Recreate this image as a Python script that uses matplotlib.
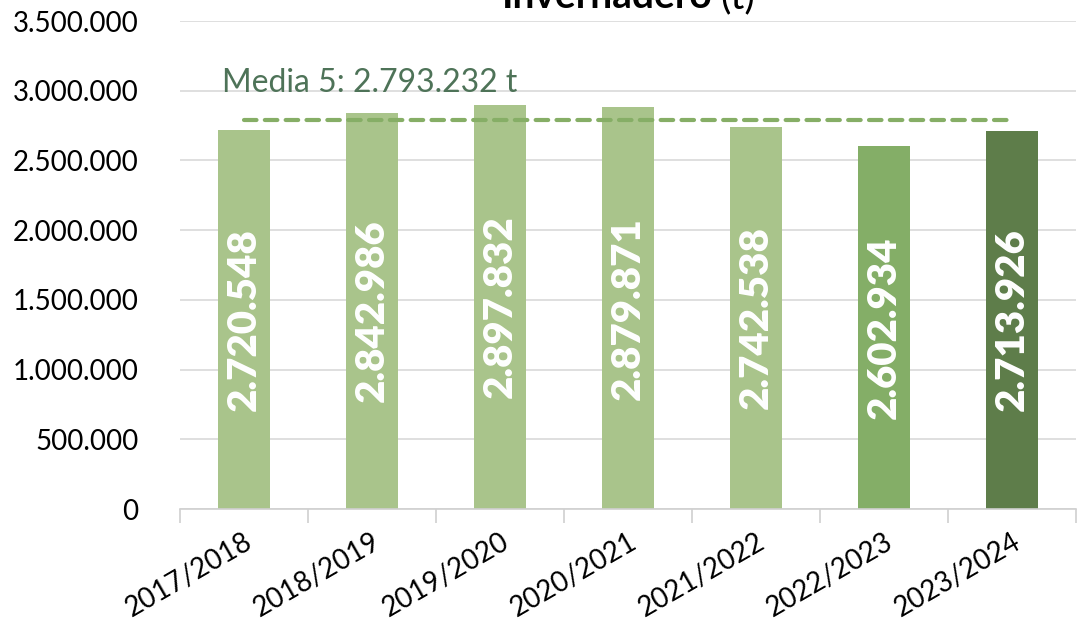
import matplotlib.pyplot as plt
import numpy as np

plt.rcParams['font.family'] = ['Lato', 'DejaVu Sans']

campaigns = ["2017/2018", "2018/2019", "2019/2020", "2020/2021",
             "2021/2022", "2022/2023", "2023/2024"]
values = [2720548, 2842986, 2897832, 2879871, 2742538, 2602934, 2713926]
colors = ["#A9C48B"] * 5 + ["#84AE67", "#5E7D4A"]
mean5 = 2793232


def es_fmt(v):
    return f"{v:,.0f}".replace(",", ".")


fig = plt.figure(figsize=(10.84, 6.25), dpi=100)
ax = fig.add_axes([180 / 1084, 1 - 509 / 625, 896 / 1084, 488 / 625])

x = np.arange(len(values))
ax.bar(x, values, width=0.4, color=colors, zorder=2)

# value labels inside the bars
for xi, v in zip(x, values):
    ax.text(xi, v / 2, es_fmt(v), rotation=90, ha='center', va='center',
            color='white', fontsize=29, fontweight='heavy', zorder=3)

# 5-year mean
ax.plot([x[0], x[-1]], [mean5, mean5], linestyle=(0, (3, 2)), color="#86AE66",
        linewidth=3, zorder=4, dash_capstyle='round')
ax.text(-0.17, mean5 + 200000, f"Media 5: {es_fmt(mean5)} t", color="#4E7358",
        fontsize=23, ha='left', va='baseline')

ax.set_xlim(-0.5, len(values) - 0.5)
ax.set_ylim(0, 3500000)
ax.set_yticks(np.arange(0, 3500001, 500000))
ax.set_yticklabels([es_fmt(v) for v in np.arange(0, 3500001, 500000)], fontsize=20)
ax.tick_params(axis='y', length=0, pad=30)
ax.set_xticks(x)
ax.set_xticklabels(campaigns, rotation=30, ha='right', rotation_mode='anchor', fontsize=20)
ax.tick_params(axis='x', length=0, pad=14)
ax.set_xticks(np.arange(-0.5, len(values), 1), minor=True)
ax.tick_params(axis='x', which='minor', length=10, color='#D0D0D0', width=1.2)
ax.grid(True, axis='y', color='#D9D9D9', linewidth=1.2, zorder=0)
for s in ['top', 'right', 'left']:
    ax.spines[s].set_visible(False)
ax.spines['bottom'].set_color('#D0D0D0')
ax.spines['bottom'].set_linewidth(1.2)

# title, cut at the top edge as in the original
fig.text(0.657, 1 - 8 / 625, "Invernadero", fontsize=28, fontweight='bold',
         ha='right', va='baseline')
fig.text(0.664, 1 - 8 / 625, "(t)", fontsize=28, ha='left', va='baseline')

fig.savefig("out.png", dpi=100)
